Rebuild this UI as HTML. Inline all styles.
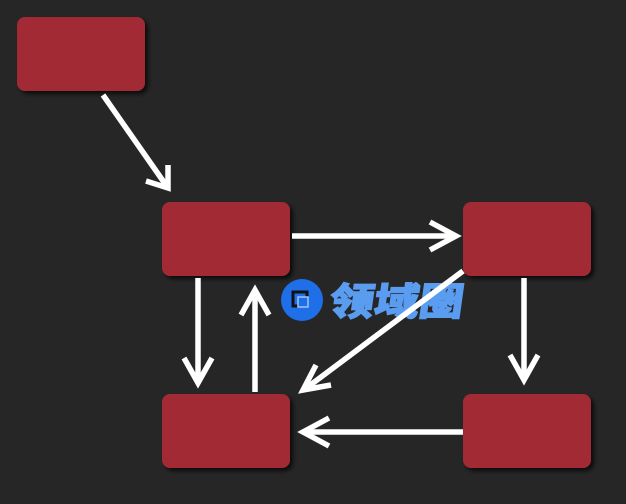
<!DOCTYPE html>
<html><head><meta charset="utf-8"><style>
html,body{margin:0;padding:0;background:#262626;width:626px;height:504px;overflow:hidden}
</style></head><body>
<svg width="626" height="504" xmlns="http://www.w3.org/2000/svg">
<defs>
<filter id="sh" x="-20%" y="-20%" width="150%" height="150%"><feDropShadow dx="3" dy="3" stdDeviation="2" flood-color="#000" flood-opacity="0.7"/></filter>
</defs>
<rect width="626" height="504" fill="#262626"/>
<g fill="#a12a35" filter="url(#sh)">
<rect x="17" y="17" width="128" height="74" rx="8"/>
<rect x="162" y="202" width="128" height="74" rx="8"/>
<rect x="463" y="202" width="128" height="74" rx="8"/>
<rect x="162" y="394" width="128" height="74" rx="8"/>
<rect x="463" y="394" width="128" height="74" rx="8"/>
</g>
<circle cx="302" cy="300" r="21" fill="#1f6fe8"/>
<rect x="293" y="292" width="14" height="14" fill="none" stroke="#111" stroke-width="3"/>
<rect x="298" y="297" width="10" height="10" fill="#1f6fe8" stroke="#9fc4f5" stroke-width="1.5"/>
<text x="0" y="0" transform="translate(328,315) skewX(-8)" font-family="'Liberation Sans','Noto Sans CJK SC',sans-serif" font-size="38" font-weight="900" fill="#5a9cf0" stroke="#5a9cf0" stroke-width="1.2" textLength="134" lengthAdjust="spacingAndGlyphs">领域圈</text>
<g stroke="#fff" stroke-width="5.5" fill="none" stroke-linecap="butt" stroke-linejoin="miter">
<line x1="103" y1="95" x2="168" y2="188"/><polyline points="146,181 168,188 168,165"/>
<line x1="292" y1="236" x2="455" y2="236"/><polyline points="430,222 456,236 430,250"/>
<line x1="198" y1="278" x2="198" y2="382"/><polyline points="184,358 198,383 212,358"/>
<line x1="255" y1="392" x2="255" y2="291"/><polyline points="241,315 255,290 269,315"/>
<line x1="524" y1="278" x2="524" y2="379"/><polyline points="510,355 524,380 538,355"/>
<line x1="463" y1="432" x2="304" y2="432"/><polyline points="329,418 303,432 329,446"/>
<line x1="463" y1="271" x2="305" y2="389"/><polyline points="316,365 303,390 331,385"/>
</g>
</svg>
</body></html>
